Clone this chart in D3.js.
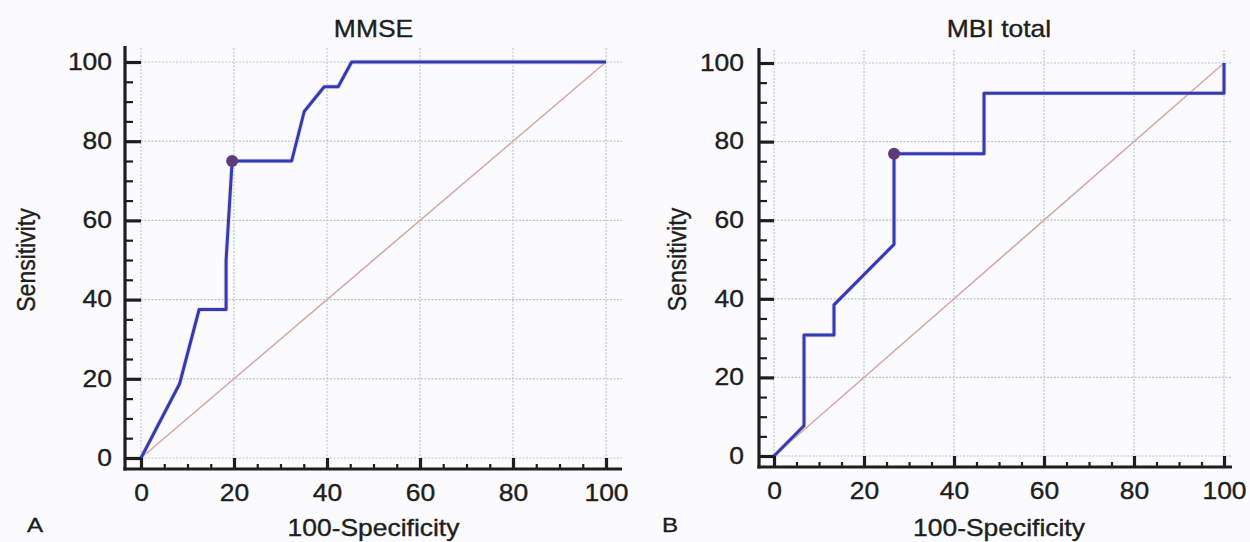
<!DOCTYPE html>
<html>
<head>
<meta charset="utf-8">
<script src="https://cdn.jsdelivr.net/npm/d3@7"></script>
<style>
  body { margin: 0; background: #fbfbfd; }
  svg { display: block; font-family: "Liberation Sans", Arial, sans-serif; }
  svg text { stroke: #1e1e1e; stroke-width: 0.35px; }
</style>
</head>
<body>
<div id="graph"></div>
<script>
// ROC curve points (100-Specificity, Sensitivity)
const mmseFpr = [0, 8.3, 12.5, 18.3, 18.3, 19.6, 32.4, 35.1, 39.4, 42.4, 45.3, 100];
const mmseTpr = [0, 18.75, 37.5, 37.5, 50, 75, 75, 87.5, 93.75, 93.75, 100, 100];
const mmseCut = [19.6, 75];

const mbiFpr = [0, 6.67, 6.67, 13.33, 13.33, 26.67, 26.67, 46.67, 46.67, 100, 100];
const mbiTpr = [0, 7.69, 30.77, 30.77, 38.46, 53.85, 76.92, 76.92, 92.31, 92.31, 100];
const mbiCut = [26.67, 76.92];

const majorTicks = [0, 20, 40, 60, 80, 100];
const minorTicks = d3.range(0, 101, 5).filter(v => v % 20 !== 0);

const titles = ["MMSE", "MBI total"];
const panelLetters = ["A", "B"];

const W = 1250, H = 542;
const svg = d3.select("#graph").append("svg").attr("width", W).attr("height", H);

const lineColor = "#2f3db3";
const dotColor = "#5b3d7c";
const diagColor = "#d6a9a6";
const gridColor = "#b8c8d2";
const ink = "#1e1e1e";
const stretch = 1.15; // the source image is a little wider than tall

function drawPanel(p) {
  const g = svg.append("g");
  const x = d3.scaleLinear().domain([0, 100]).range([p.x0, p.x1]);
  const y = d3.scaleLinear().domain([0, 100]).range([p.y0, p.y1]);

  // dotted grid
  g.selectAll(".hgrid").data(majorTicks).enter().append("line")
    .attr("x1", x(0)).attr("x2", p.gridRight)
    .attr("y1", d => y(d)).attr("y2", d => y(d))
    .attr("stroke", gridColor).attr("stroke-width", 1.2).attr("stroke-dasharray", "2,1.5");
  g.selectAll(".vgrid").data(majorTicks).enter().append("line")
    .attr("x1", d => x(d)).attr("x2", d => x(d))
    .attr("y1", p.axisTop).attr("y2", y(0))
    .attr("stroke", gridColor).attr("stroke-width", 1.2).attr("stroke-dasharray", "2,1.5");

  // reference diagonal
  g.append("line")
    .attr("x1", x(0)).attr("y1", y(0)).attr("x2", x(100)).attr("y2", y(100))
    .attr("stroke", diagColor).attr("stroke-width", 1.6);

  // roc curve
  const pts = p.fpr.map((v, i) => [v, p.tpr[i]]);
  const line = d3.line().x(d => x(d[0])).y(d => y(d[1]));
  g.append("path").attr("d", line(pts))
    .attr("fill", "none").attr("stroke", "#e9b8c8").attr("stroke-width", 4.8)
    .attr("stroke-linejoin", "round").attr("opacity", 0.5);
  g.append("path").attr("d", line(pts))
    .attr("fill", "none").attr("stroke", lineColor).attr("stroke-width", 3)
    .attr("stroke-linejoin", "round");

  g.append("circle")
    .attr("cx", x(p.cut[0])).attr("cy", y(p.cut[1])).attr("r", 6)
    .attr("fill", dotColor);

  // axes (ticks point inwards, axis lines offset from the origin)
  const yAxisX = p.x0 - p.axisGap;
  const xAxisY = p.y0 + 11;

  g.append("g").attr("transform", `translate(${yAxisX},0)`)
    .call(d3.axisLeft(y).tickValues(minorTicks).tickSizeInner(-8).tickSizeOuter(0).tickFormat(""))
    .call(a => a.select(".domain").remove())
    .call(a => a.selectAll("line").attr("stroke", ink).attr("stroke-width", 2.2));
  g.append("g").attr("transform", `translate(${yAxisX},0)`)
    .call(d3.axisLeft(y).tickValues(majorTicks).tickSizeInner(-p.axisGap).tickSizeOuter(0).tickPadding(13))
    .call(a => a.select(".domain").remove())
    .call(a => a.selectAll("line").attr("stroke", ink).attr("stroke-width", 3.2))
    .call(a => a.selectAll("text").attr("font-size", 23).attr("fill", ink)
      .attr("x", -p.labelPad / stretch).attr("transform", `scale(${stretch},1)`));

  g.append("g").attr("transform", `translate(0,${xAxisY})`)
    .call(d3.axisBottom(x).tickValues(minorTicks).tickSizeInner(-5).tickSizeOuter(0).tickFormat(""))
    .call(a => a.select(".domain").remove())
    .call(a => a.selectAll("line").attr("stroke", ink).attr("stroke-width", 2.2));
  g.append("g").attr("transform", `translate(0,${xAxisY})`)
    .call(d3.axisBottom(x).tickValues(majorTicks).tickSizeInner(-11).tickSizeOuter(0).tickPadding(16))
    .call(a => a.select(".domain").remove())
    .call(a => a.selectAll("line").attr("stroke", ink).attr("stroke-width", 3.2))
    .call(a => a.selectAll("text").attr("font-size", 23).attr("fill", ink)
      .attr("transform", `scale(${stretch},1)`));

  g.append("line").attr("x1", yAxisX).attr("x2", yAxisX)
    .attr("y1", p.axisTop - 2).attr("y2", xAxisY + 1.6)
    .attr("stroke", ink).attr("stroke-width", 3.2);
  g.append("line").attr("x1", yAxisX - 1.6).attr("x2", p.gridRight)
    .attr("y1", xAxisY).attr("y2", xAxisY)
    .attr("stroke", ink).attr("stroke-width", 3.2);

  // labels
  const cx = (x(0) + x(100)) / 2;
  g.append("text").attr("transform", `translate(${cx},37) scale(${stretch},1)`)
    .attr("text-anchor", "middle").attr("font-size", 23).attr("fill", ink).text(p.title);
  g.append("text").attr("transform", `translate(${cx},536) scale(${stretch},1)`)
    .attr("text-anchor", "middle").attr("font-size", 23).attr("fill", ink).text("100-Specificity");
  g.append("text")
    .attr("transform", `translate(${p.ylabX},${(y(0) + y(100)) / 2}) scale(${stretch},1) rotate(-90)`)
    .attr("text-anchor", "middle").attr("font-size", 23).attr("fill", ink).text("Sensitivity");
  g.append("text").attr("transform", `translate(${p.letterX},532) scale(${stretch},1)`)
    .attr("font-size", 21).attr("fill", ink).text(p.letter);
}

drawPanel({
  x0: 141, x1: 606, y0: 458, y1: 62, axisTop: 48, gridRight: 622, axisGap: 16, labelPad: 13,
  fpr: mmseFpr, tpr: mmseTpr, cut: mmseCut,
  title: titles[0], letter: panelLetters[0], ylabX: 35, letterX: 27
});
drawPanel({
  x0: 774, x1: 1224, y0: 456, y1: 63, axisTop: 50, gridRight: 1232, axisGap: 15, labelPad: 15,
  fpr: mbiFpr, tpr: mbiTpr, cut: mbiCut,
  title: titles[1], letter: panelLetters[1], ylabX: 686, letterX: 662
});
</script>
</body>
</html>
